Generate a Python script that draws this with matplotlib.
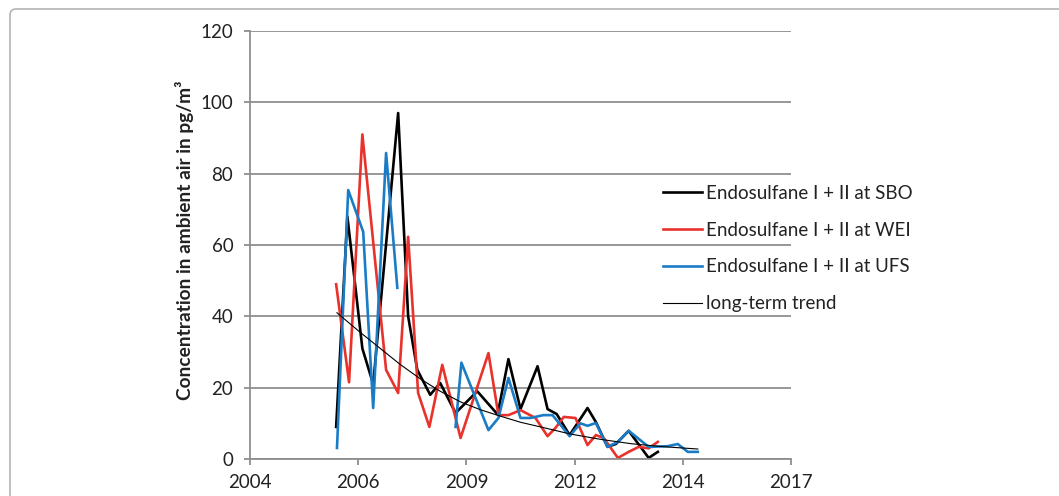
import numpy as np
import matplotlib.pyplot as plt
from matplotlib.patches import FancyBboxPatch
from matplotlib.ticker import FuncFormatter
from matplotlib.transforms import IdentityTransform

plt.rcParams['font.family'] = ['Lato', 'DejaVu Sans']

# sampling dates in decimal years, concentrations in pg/m3
sbo_years = [2006.32, 2006.59, 2006.95, 2007.21, 2007.81, 2008.05, 2008.27, 2008.58,
             2008.82, 2009.19, 2009.71, 2010.20, 2010.46, 2010.75, 2011.16, 2011.40,
             2011.62, 2011.93, 2012.36, 2012.56, 2012.84, 2013.04, 2013.35, 2013.83,
             2014.05]
sbo_conc = [9, 68, 31, 21, 97, 40, 25, 18, 21.3, 12.9, 19, 12.5, 28, 14, 26, 14,
            12.6, 6.7, 14.3, 10.4, 3.4, 4.2, 7.9, 0.3, 2]

wei_years = [2006.32, 2006.63, 2006.95, 2007.52, 2007.81, 2008.05, 2008.29, 2008.56,
             2008.87, 2009.31, 2009.98, 2010.22, 2010.46, 2010.75, 2011.11, 2011.40,
             2011.59, 2011.79, 2012.07, 2012.36, 2012.56, 2012.75, 2013.09, 2013.35,
             2013.59, 2013.83, 2014.05]
wei_conc = [49, 21.5, 91, 25, 18.5, 62.3, 18.5, 9, 26.4, 5.9, 29.7, 12.3, 12.3, 13.7,
            11.5, 6.4, 8.7, 11.8, 11.5, 3.9, 6.7, 5.9, 0.3, 2, 3.4, 3, 4.8]

# no UFS samples between late 2007 and early 2009
ufs_years = [2006.34, 2006.61, 2006.97, 2007.21, 2007.52, 2007.79, np.nan,
             2009.19, 2009.33, 2009.98, 2010.22, 2010.46, 2010.75, 2010.99, 2011.30,
             2011.52, 2011.93, 2012.19, 2012.36, 2012.56, 2012.84, 2013.09, 2013.35,
             2013.83, 2014.29, 2014.53, 2014.77, 2015.01]
ufs_conc = [3.1, 75.4, 63.7, 14.3, 85.8, 48, np.nan,
            9, 27, 8.1, 11.5, 22.7, 11.5, 11.5, 12.3, 12.3, 6.4, 10, 9.3, 10.1, 3.4,
            4.8, 7.9, 3.4, 3.6, 4.2, 2, 2]

trend_years = [2006.34, 2006.90, 2007.38, 2007.86, 2008.34, 2008.82, 2009.31, 2009.79,
               2010.27, 2010.75, 2011.23, 2011.95, 2012.68, 2013.40, 2014.12, 2015.01]
trend_conc = [41, 35.5, 31, 26.5, 22.5, 19, 16, 13.8, 12, 10.3, 9, 7, 5.5, 4.3, 3.5, 2.8]

grid_col = '#8f8f8f'
text_col = '#222222'

fig = plt.figure(figsize=(10.59, 4.96), dpi=100)
ax = fig.add_axes([250 / 1059, 37 / 496, 541 / 1059, 428 / 496])

ax.plot(sbo_years, sbo_conc, color='black', lw=1.9, label='Endosulfane I + II at SBO')
ax.plot(wei_years, wei_conc, color='#e8322b', lw=1.9, label='Endosulfane I + II at WEI')
ax.plot(ufs_years, ufs_conc, color='#1b7cc6', lw=1.9, label='Endosulfane I + II at UFS')
ax.plot(trend_years, trend_conc, color='black', lw=0.8, label='long-term trend')

ax.set_xlim(2004.25, 2017.25)
ax.set_ylim(0, 120)
ax.set_xticks(np.arange(2004.25, 2017.3, 2.6))
ax.xaxis.set_major_formatter(FuncFormatter(lambda v, p: str(int(v))))
ax.set_yticks(np.arange(0, 121, 20))

ax.grid(axis='y', color=grid_col, lw=1.3)
ax.set_axisbelow(True)
for side in ['top', 'right']:
    ax.spines[side].set_visible(False)
for side in ['left', 'bottom']:
    ax.spines[side].set_color(grid_col)
    ax.spines[side].set_linewidth(1.3)
ax.tick_params(axis='both', colors=grid_col, labelcolor=text_col, labelsize=13.5,
               length=4, width=1.3)
ax.tick_params(axis='y', pad=8)
ax.tick_params(axis='x', pad=7)

fig.text(185 / 1059, 1 - 240 / 496, 'Concentration in ambient air in pg/m³',
         rotation=90, ha='center', va='center', fontsize=13.8, fontweight='bold',
         color=text_col)

ax.legend(loc='upper left', bbox_to_anchor=(663 / 1059, 1 - 185 / 496),
          bbox_transform=fig.transFigure, frameon=False, fontsize=13.5,
          handlelength=2.1, handletextpad=0.2, labelspacing=1.05, borderpad=0,
          borderaxespad=0, labelcolor=text_col)

# rounded border around the figure
frame = FancyBboxPatch((10, -20), 1100, 496 - 9 + 20,
                       boxstyle='round,pad=0,rounding_size=6',
                       transform=IdentityTransform(), fill=False,
                       edgecolor='#b4b4b4', lw=1.2)
fig.patches.append(frame)

fig.savefig('out.png', dpi=100)
